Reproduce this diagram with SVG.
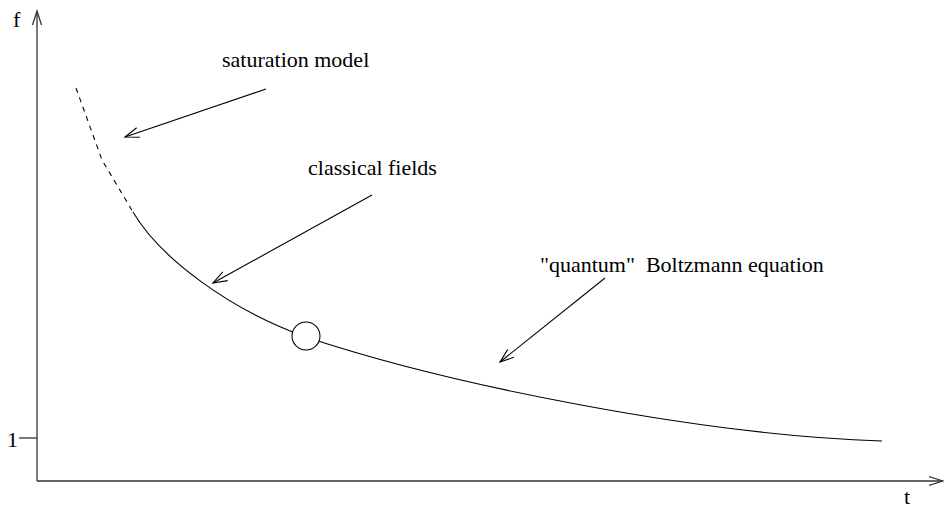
<svg xmlns="http://www.w3.org/2000/svg" width="944" height="509" viewBox="0 0 944 509">
<style>
.ln{fill:none;stroke:#000;stroke-width:1.1}
.ax{fill:none;stroke:#333;stroke-width:1.3}
.lbl{font-family:"Liberation Serif","Times New Roman",serif;font-size:22px;fill:#000}
</style>
<defs>
<marker id="ah" markerWidth="16" markerHeight="12" refX="14" refY="6" orient="auto" markerUnits="userSpaceOnUse">
<path d="M0,1 L14,6 L0,11" fill="none" stroke="#000" stroke-width="1.1"/>
</marker>
<marker id="axh" markerWidth="16" markerHeight="12" refX="14" refY="6" orient="auto" markerUnits="userSpaceOnUse">
<path d="M0,1.5 L14,6 L0,10.5" fill="none" stroke="#333" stroke-width="1.3"/>
</marker>
</defs>
<rect width="944" height="509" fill="#fff"/>
<g id="axes">
<line class="ax" x1="37" y1="481" x2="37" y2="11" marker-end="url(#axh)"/>
<line class="ax" x1="37" y1="481" x2="943" y2="481" marker-end="url(#axh)"/>
<line class="ax" x1="19" y1="438" x2="37" y2="438"/>
<text class="lbl" x="13" y="27">f</text>
<text class="lbl" x="7" y="447">1</text>
<text class="lbl" x="904" y="504">t</text>
</g>
<g id="curve">
<path class="ln" d="M76,88 L102,160 L133,212" stroke-dasharray="5,5"/>
<path class="ln" d="M133,212 C160,258 230,310 306,337 C450,385 700,435 882,441"/>
</g>
<g id="junction">
<circle cx="306" cy="336" r="14" fill="#fff" stroke="#000" stroke-width="1.1"/>
</g>
<g id="labels">
<text class="lbl" x="222" y="67">saturation model</text>
<text class="lbl" x="308" y="175">classical fields</text>
<text class="lbl" x="540" y="272" xml:space="preserve">"quantum"  Boltzmann equation</text>
</g>
<g id="connectors">
<line class="ln" x1="266" y1="89" x2="125" y2="137" marker-end="url(#ah)"/>
<line class="ln" x1="372" y1="195" x2="213" y2="283" marker-end="url(#ah)"/>
<line class="ln" x1="605" y1="278" x2="500" y2="362" marker-end="url(#ah)"/>
</g>
</svg>
